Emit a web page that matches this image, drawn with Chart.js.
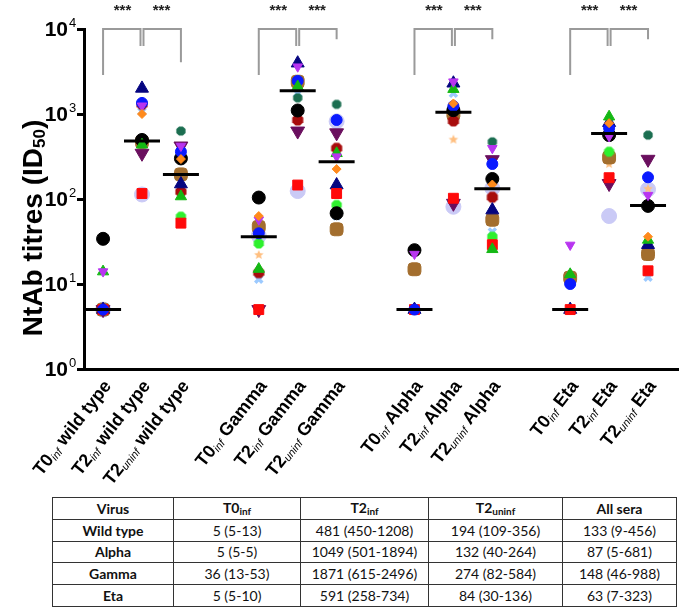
<!DOCTYPE html>
<html><head><meta charset="utf-8">
<script src="https://cdn.jsdelivr.net/npm/chart.js@4.4.1/dist/chart.umd.min.js"></script>
<style>
html,body{margin:0;padding:0;background:#fff;}
#wrap{position:absolute;left:0;top:0;width:693px;height:490px;}
#tbl{position:absolute;left:52px;top:497px;border-collapse:collapse;font-family:Lato,"Liberation Sans",sans-serif;font-size:14px;color:#111;}
#tbl td{border:1px solid #333;height:20.8px;padding:0;text-align:center;white-space:nowrap;}
#tbl tr:first-child td{font-weight:bold;}
#tbl td:first-child{font-weight:bold;}
#tbl sub{font-size:10px;vertical-align:-2px;}
</style></head>
<body>
<div id="wrap"><canvas id="c"></canvas></div>
<table id="tbl"></table>
<script>
// ---------- categories ----------
const timepoints = ['T0', 'T2', 'T2'];
const subsets = ['inf', 'inf', 'uninf'];
const viruses = ['wild type', 'Gamma', 'Alpha', 'Eta'];
const categories = viruses.flatMap(v => timepoints.map((t, j) => t + subsets[j] + ' ' + v));
const yTickValues = [1, 10, 100, 1000, 10000];

// ---------- medians (order: wt, Gamma, Alpha, Eta; T0inf, T2inf, T2uninf) ----------
const medians = [5, 481, 194, 36, 1871, 274, 5, 1049, 132, 5, 591, 84];

// ---------- individual sera, one array per marker ----------
const orangeDiamond  = [null, 1000, 295, 63, null, 225, null, 1330, 148, null, 780, 36];
const magentaTri     = [14, 1250, 420, 57, 3600, 315, 22.5, 2400, 395, 28.8, 545, 111];
const greenTriangle  = [14, 435, 107, 15, 2100, 345, null, 1960, 25.6, 13, 930, 33];
const blueCircle     = [5, 1350, 360, 39.5, 2450, 850, 5, 1240, 258, 10, 680, 180];
const redSquare      = [5, 116, 52, 5, 146, 116, 5, 102, 29, 5, 178, 14.3];
const blackCircle    = [34, 495, 300, 104, 1100, 68, 25, 1110, 172, null, 565, 83];
const navyTriangle   = [5, 2000, 150, null, 3960, 146, 5, 2300, 74, 5, 790, 29];
const maroonHex      = [5, 1300, 122, 13.6, 850, 395, null, 830, 105, null, null, null];
const tealHex        = [null, null, 630, null, 1550, 1300, null, null, 470, null, null, 565];
const limeHex        = [null, null, 62, 30, null, 85, null, null, 36, null, 360, null];
const skyCross       = [null, 1070, null, 11.4, 1750, 63, null, 1750, 41, null, null, 12];
const plumTri        = [5, 345, 420, 5, 630, 600, null, 89, 290, null, 152, 293];
const brownSquare    = [5, 470, 195, 47, 2400, 44, 14.9, 1000, 57, 11.9, 308, 22.5];
const peachStar      = [null, null, null, 22, null, null, null, 500, null, null, 258, 132];
const lavenderCircle = [5, 113, null, 37, 124, 820, null, 81, 134, null, 63, 130];

// ---------- significance brackets (per virus group) ----------
const sigLabels = ['***', '***'];
const bracketTop = 10000;
const legLeft  = [2880, 2880, 2880, 2880];
const legMid   = [6300, 6300, 6300, 6300];
const legRight = [4070, 7600, 7600, 7600];

// ---------- table ----------
const tableHeader = ['Virus', 'T0|inf', 'T2|inf', 'T2|uninf', 'All sera'];
const tableVirus = ['Wild type', 'Alpha', 'Gamma', 'Eta'];
const colT0inf   = ['5 (5-13)', '5 (5-5)', '36 (13-53)', '5 (5-10)'];
const colT2inf   = ['481 (450-1208)', '1049 (501-1894)', '1871 (615-2496)', '591 (258-734)'];
const colT2uninf = ['194 (109-356)', '132 (40-264)', '274 (82-584)', '84 (30-136)'];
const colAllSera = ['133 (9-456)', '87 (5-681)', '148 (46-988)', '63 (7-323)'];

(function buildTable(){
  const t = document.getElementById('tbl');
  const widths = [120, 126, 127, 133, 113];
  let html = '<tr>' + tableHeader.map((h, i) => {
    const p = h.split('|');
    return '<td style="width:' + widths[i] + 'px">' + p[0] + (p[1] ? '<sub>' + p[1] + '</sub>' : '') + '</td>';
  }).join('') + '</tr>';
  tableVirus.forEach((v, r) => {
    html += '<tr><td>' + v + '</td><td>' + colT0inf[r] + '</td><td>' + colT2inf[r] + '</td><td>' + colT2uninf[r] + '</td><td>' + colAllSera[r] + '</td></tr>';
  });
  t.innerHTML = html;
})();

// ---------- custom point images ----------
function hexImg(color, r){
  const c = document.createElement('canvas'); c.width = c.height = 2*r + 2;
  const g = c.getContext('2d'); g.fillStyle = color; g.beginPath();
  for (let k = 0; k < 8; k++){ const a = Math.PI/8 + k*Math.PI/4; const px = r+1 + r*Math.cos(a), py = r+1 + r*Math.sin(a); k ? g.lineTo(px, py) : g.moveTo(px, py); }
  g.closePath(); g.fill(); return c;
}
function starImg(color, r){
  const c = document.createElement('canvas'); c.width = c.height = 2*r + 2;
  const g = c.getContext('2d'); g.fillStyle = color; g.beginPath();
  for (let k = 0; k < 10; k++){ const a = -Math.PI/2 + k*Math.PI/5; const rr = k % 2 ? r*0.45 : r; const px = r+1 + rr*Math.cos(a), py = r+1 + rr*Math.sin(a); k ? g.lineTo(px, py) : g.moveTo(px, py); }
  g.closePath(); g.fill(); return c;
}

const catPos = categories.map((c, i) => i + Math.floor(i / 3));

const series = [
  {v: orangeDiamond,  color: '#ff8a1c', style: 'rectRot',  r: 4.5},
  {v: magentaTri,     color: '#b835f0', style: 'triangle', r: 5.5, rot: 180},
  {v: greenTriangle,  color: '#14b814', style: 'triangle', r: 6.5},
  {v: blueCircle,     color: '#0a1aff', style: 'circle',   r: 5.5},
  {v: redSquare,      color: '#ff0a0a', style: 'rect',     r: 7},
  {v: blackCircle,    color: '#000000', style: 'circle',   r: 6.5},
  {v: navyTriangle,   color: '#050580', style: 'triangle', r: 7.5},
  {v: maroonHex,      color: '#a80c0c', style: hexImg('#a80c0c', 6)},
  {v: tealHex,        color: '#1b6e50', style: hexImg('#1b6e50', 5)},
  {v: limeHex,        color: '#2ef02e', style: hexImg('#2ef02e', 5.5)},
  {v: skyCross,       color: '#9ccaff', style: 'crossRot', r: 5, bw: 3.5},
  {v: plumTri,        color: '#6a0f5e', style: 'triangle', r: 8, rot: 180},
  {v: brownSquare,    color: '#a36e2e', style: 'rectRounded', r: 7.5},
  {v: peachStar,      color: '#ffbf80', style: starImg('#ffbf80', 5)},
  {v: lavenderCircle, color: '#cacaf6', style: 'circle',   r: 7.5}
];

const datasets = series.map(s => ({
  data: s.v.map((val, i) => val == null ? null : {x: catPos[i], y: val}).filter(p => p),
  pointStyle: s.style,
  pointRadius: s.r || 5,
  pointRotation: s.rot || 0,
  backgroundColor: s.color,
  borderColor: s.color,
  borderWidth: s.bw || 1,
  showLine: false
}));

const FONT = '"Liberation Sans", Arial, sans-serif';

function drawRich(ctx, parts, x, y, align){
  let total = 0;
  parts.forEach(p => { ctx.font = p.font; p.w = ctx.measureText(p.text).width; total += p.w; });
  let cx = align === 'right' ? x - total : align === 'center' ? x - total/2 : x;
  ctx.textAlign = 'left';
  parts.forEach(p => { ctx.font = p.font; ctx.fillText(p.text, cx, y + (p.dy || 0)); cx += p.w; });
}

const overlay = {
  id: 'overlay',
  afterDatasetsDraw(chart){
    const ctx = chart.ctx, xs = chart.scales.x, ys = chart.scales.y;
    ctx.save();
    ctx.strokeStyle = '#000'; ctx.lineWidth = 3;
    medians.forEach((m, i) => {
      const x = xs.getPixelForValue(catPos[i]), y = ys.getPixelForValue(m);
      ctx.beginPath(); ctx.moveTo(x - 18, y); ctx.lineTo(x + 18, y); ctx.stroke();
    });
    ctx.restore();
  },
  afterDraw(chart){
    const ctx = chart.ctx, xs = chart.scales.x, ys = chart.scales.y, area = chart.chartArea;
    ctx.save();
    // brackets
    ctx.strokeStyle = '#9a9a9a'; ctx.lineWidth = 2;
    viruses.forEach((v, g) => {
      const x0 = xs.getPixelForValue(catPos[3*g]), x1 = xs.getPixelForValue(catPos[3*g+1]), x2 = xs.getPixelForValue(catPos[3*g+2]);
      const yT = ys.getPixelForValue(bracketTop);
      ctx.beginPath();
      ctx.moveTo(x0, ys.getPixelForValue(legLeft[g])); ctx.lineTo(x0, yT); ctx.lineTo(x1 - 1.5, yT); ctx.lineTo(x1 - 1.5, ys.getPixelForValue(legMid[g]));
      ctx.moveTo(x1 + 1.5, ys.getPixelForValue(legMid[g])); ctx.lineTo(x1 + 1.5, yT); ctx.lineTo(x2, yT); ctx.lineTo(x2, ys.getPixelForValue(legRight[g]));
      ctx.stroke();
      ctx.fillStyle = '#222'; ctx.font = 'bold 15px ' + FONT; ctx.textAlign = 'center'; ctx.textBaseline = 'alphabetic';
      ctx.fillText(sigLabels[0], (x0 + x1) / 2, 15);
      ctx.fillText(sigLabels[1], (x1 + x2) / 2, 15);
    });
    // y tick labels
    ctx.fillStyle = '#000'; ctx.textBaseline = 'middle';
    yTickValues.forEach(v => {
      const y = ys.getPixelForValue(v);
      const e = Math.round(Math.log10(v));
      ctx.font = 'bold 21px ' + FONT; ctx.textAlign = 'right';
      ctx.fillText('10', 68, y + 1);
      ctx.font = '13px ' + FONT; ctx.textAlign = 'left';
      ctx.fillText(String(e), 69, y - 6);
    });
    // y title
    ctx.save();
    ctx.translate(34, 228);
    ctx.rotate(-Math.PI / 2);
    ctx.textBaseline = 'middle';
    drawRich(ctx, [
      {text: 'NtAb titres (ID', font: 'bold 28px ' + FONT},
      {text: '50', font: 'bold 17px ' + FONT, dy: 6},
      {text: ')', font: 'bold 28px ' + FONT}
    ], 0, 0, 'center');
    ctx.restore();
    // x labels
    const ang = 52 * Math.PI / 180;
    categories.forEach((c, i) => {
      const g = Math.floor(i / 3), j = i % 3;
      const x = xs.getPixelForValue(catPos[i]);
      ctx.save();
      ctx.translate(x + 5, area.bottom + 14);
      ctx.rotate(-ang);
      ctx.textBaseline = 'middle';
      drawRich(ctx, [
        {text: timepoints[j], font: 'bold 18px ' + FONT},
        {text: subsets[j], font: 'italic 11px ' + FONT, dy: 4},
        {text: ' ' + viruses[g], font: 'bold 18px ' + FONT}
      ], 0, 0, 'right');
      ctx.restore();
    });
    ctx.restore();
  }
};

new Chart(document.getElementById('c'), {
  type: 'scatter',
  data: {datasets},
  options: {
    responsive: true, maintainAspectRatio: false, animation: false, devicePixelRatio: 1,
    layout: {padding: {top: 29, right: 15, left: 0, bottom: 0}},
    plugins: {legend: {display: false}, tooltip: {enabled: false}},
    scales: {
      x: {type: 'linear', min: -0.49, max: 14.77, grid: {display: false}, ticks: {display: false},
          border: {display: true, color: '#000', width: 3},
          afterFit: s => { s.height = 121; }},
      y: {type: 'logarithmic', min: 1, max: 10000, ticks: {display: false},
          grid: {display: true, drawOnChartArea: false, drawTicks: true, tickLength: 7, lineWidth: 3, color: '#000'},
          border: {display: true, color: '#000', width: 3},
          afterBuildTicks: s => { s.ticks = yTickValues.map(v => ({value: v})); },
          afterFit: s => { s.width = 84; }}
    }
  },
  plugins: [overlay]
});
</script>
</body></html>
